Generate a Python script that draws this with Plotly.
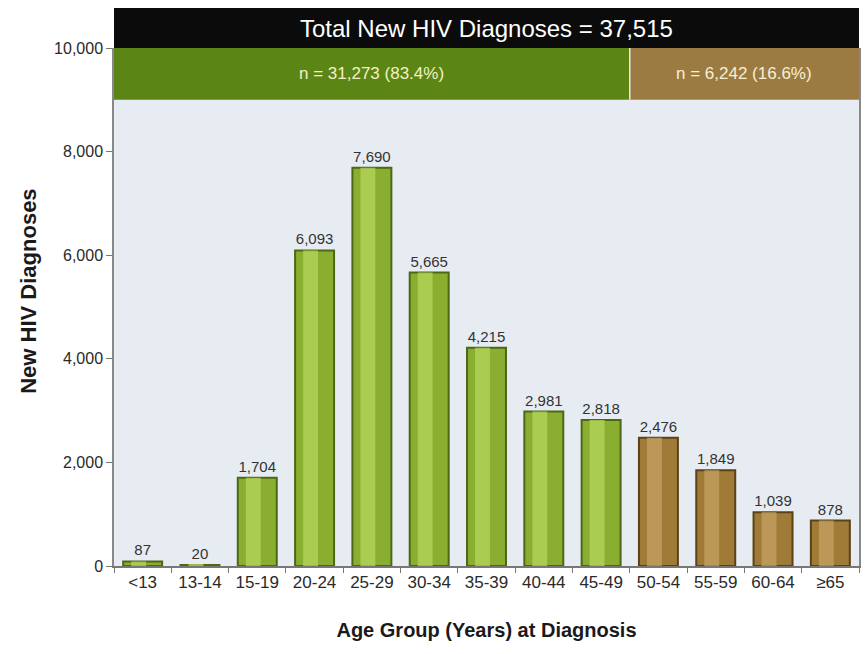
import plotly.graph_objects as go

# Age groups and counts of new HIV diagnoses
age_groups = ["<13", "13-14", "15-19", "20-24", "25-29", "30-34", "35-39",
              "40-44", "45-49", "50-54", "55-59", "60-64", "≥65"]
diagnoses = [87, 20, 1704, 6093, 7690, 5665, 4215, 2981, 2818, 2476, 1849, 1039, 878]

total_label = "Total New HIV Diagnoses = 37,515"
under50_label = "n = 31,273 (83.4%)"
over50_label = "n = 6,242 (16.6%)"

# Under 50 in green, 50 and over in brown
under50 = age_groups[:9]
over50 = age_groups[9:]

FONT = "Liberation Sans Narrow, Arial Narrow, Liberation Sans, Arial, sans-serif"
GREEN_MID, GREEN_LIGHT, GREEN_EDGE = "#89ae30", "#b4d65c", "#4c6816"
BROWN_MID, BROWN_LIGHT, BROWN_EDGE = "#a07b38", "#c4a262", "#5a4218"

mids = [GREEN_MID if g in under50 else BROWN_MID for g in age_groups]
lights = [GREEN_LIGHT if g in under50 else BROWN_LIGHT for g in age_groups]
edges = [GREEN_EDGE if g in under50 else BROWN_EDGE for g in age_groups]

fig = go.Figure()

# Main bars with dark outlines and value labels
fig.add_trace(go.Bar(
    x=age_groups, y=diagnoses, width=0.68,
    marker=dict(color=mids, line=dict(color=edges, width=2)),
    texttemplate="%{y:,}", textposition="outside",
    textfont=dict(family=FONT, size=15, color="#333333"),
    cliponaxis=False, hoverinfo="skip", showlegend=False,
))
# Highlight strip giving the cylindrical shading
fig.add_trace(go.Bar(
    x=age_groups, y=diagnoses, width=0.26, offset=-0.2,
    marker=dict(color=lights, line=dict(width=0), opacity=0.75),
    hoverinfo="skip", showlegend=False,
))

# Header bands
fig.add_shape(type="rect", xref="paper", yref="paper", x0=0, x1=1, y0=1.0, y1=1.077,
              fillcolor="#0b0b0b", line=dict(width=0), layer="above")
fig.add_shape(type="rect", xref="x", yref="y", x0=-0.5, x1=8.5, y0=9000, y1=10000,
              fillcolor="#5b8616", line=dict(width=0), layer="above")
fig.add_shape(type="rect", xref="x", yref="y", x0=8.5, x1=12.5, y0=9000, y1=10000,
              fillcolor="#9c7b42", line=dict(width=0), layer="above")
fig.add_shape(type="line", xref="x", yref="y", x0=8.5, x1=8.5, y0=9000, y1=10000,
              line=dict(color="#e8e8e0", width=1.5), layer="above")

fig.add_annotation(text=total_label, xref="paper", yref="paper", x=0.5, y=1.0385,
                   xanchor="center", yanchor="middle",
                   showarrow=False, font=dict(family=FONT, size=24, color="white"))
fig.add_annotation(text=under50_label, xref="x", yref="y", x=4.0, y=9500,
                   xanchor="center", yanchor="middle",
                   showarrow=False, font=dict(family=FONT, size=17, color="#f3f0c4"))
fig.add_annotation(text=over50_label, xref="x", yref="y", x=10.5, y=9500,
                   xanchor="center", yanchor="middle",
                   showarrow=False, font=dict(family=FONT, size=17, color="#f6efd2"))

# Vertical axis title, placed a little above the plot's centre
fig.add_annotation(text="<b>New HIV Diagnoses</b>", xref="paper", yref="paper",
                   x=-0.115, y=0.53, xanchor="center", yanchor="middle",
                   textangle=-90, showarrow=False,
                   font=dict(family="Liberation Sans, Arial, sans-serif", size=22, color="#1a1a1a"))

fig.update_layout(
    width=867, height=654,
    margin=dict(l=114, r=6, t=48, b=88),
    paper_bgcolor="white", plot_bgcolor="#e7ecf2",
    barmode="overlay", bargap=0.3,
    xaxis=dict(
        type="category", range=[-0.5, 12.5],
        showline=True, linecolor="#777777", linewidth=1.5,
        ticks="outside", tickson="boundaries", ticklen=5, tickcolor="#777777",
        tickfont=dict(family=FONT, size=17, color="#2a2a2a"),
        title=dict(text="<b>Age Group (Years) at Diagnosis</b>",
                   font=dict(family=FONT, size=20, color="#1a1a1a"), standoff=32),
        showgrid=False, zeroline=False,
    ),
    yaxis=dict(
        range=[0, 10000], tickvals=[0, 2000, 4000, 6000, 8000, 10000],
        tickformat=",", showline=True, mirror=True,
        linecolor="#888888", linewidth=1.5,
        ticks="outside", ticklen=6, tickcolor="#777777",
        tickfont=dict(family=FONT, size=16, color="#2a2a2a"),
        showgrid=False, zeroline=False,
    ),
)

fig.write_html("out.html")
